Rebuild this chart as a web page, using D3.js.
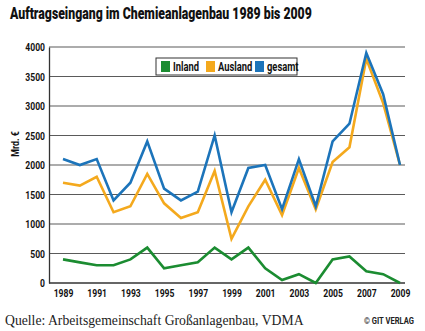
<!DOCTYPE html>
<html>
<head>
<meta charset="utf-8">
<script src="https://cdn.jsdelivr.net/npm/d3@7"></script>
<style>
  body { margin: 0; background: #fff; }
  svg { display: block; }
</style>
</head>
<body>
<div id="container"></div>
<script>
// data
const years = d3.range(1989, 2010);
const inland = [400, 350, 300, 300, 400, 600, 250, 300, 350, 600, 400, 600, 250, 50, 150, 0, 400, 450, 200, 150, 0];
const ausland = [1700, 1650, 1800, 1200, 1300, 1850, 1350, 1100, 1200, 1900, 750, 1300, 1750, 1150, 1950, 1250, 2050, 2300, 3800, 3050, 2000];
const gesamt = [2100, 2000, 2100, 1400, 1700, 2400, 1600, 1400, 1550, 2500, 1200, 1950, 2000, 1250, 2100, 1300, 2400, 2700, 3900, 3200, 2000];
const yTicks = [0, 500, 1000, 1500, 2000, 2500, 3000, 3500, 4000];
const xTicks = [1989, 1991, 1993, 1995, 1997, 1999, 2001, 2003, 2005, 2007, 2009];

const seriesList = [
  { name: 'Inland', values: inland, color: '#1b8c31' },
  { name: 'Ausland', values: ausland, color: '#f4a91d' },
  { name: 'gesamt', values: gesamt, color: '#1c74ba' }
];

const width = 425;
const height = 331;
const sans = 'Roboto, "Noto Sans", sans-serif';

const svg = d3.select('#container').append('svg')
  .attr('width', width)
  .attr('height', height);

// squeeze text horizontally to mimic a condensed face
function condense(sel, factor) {
  sel.each(function () {
    const w = this.getComputedTextLength();
    d3.select(this)
      .attr('textLength', w * factor)
      .attr('lengthAdjust', 'spacingAndGlyphs');
  });
}

function boldText(sel, size) {
  return sel
    .style('font-family', sans)
    .style('font-weight', 'bold')
    .style('font-size', size)
    .attr('fill', '#111');
}

// title (squeezed with a scale so it spans the same width as the original)
const title = svg.append('text')
  .call(boldText, '17px')
  .style('font-weight', 900)
  .text('Auftragseingang im Chemieanlagenbau 1989 bis 2009');
const titleW = title.node().getComputedTextLength();
title.attr('transform', `translate(10,19) scale(${302 / titleW},1)`);

const x = d3.scaleLinear().domain([1989, 2009]).range([63, 400]);
const y = d3.scaleLinear().domain([0, 4000]).range([283, 47]);

// gridlines
svg.append('g')
  .selectAll('line')
  .data(yTicks)
  .join('line')
  .attr('x1', 49).attr('x2', 405)
  .attr('y1', d => y(d)).attr('y2', d => y(d))
  .attr('stroke', d => d === 0 ? '#333' : '#5a5a5a')
  .attr('stroke-width', d => d === 0 ? 1.5 : 1.1);

// y axis
const yAxis = svg.append('g')
  .attr('transform', 'translate(49,0)')
  .call(d3.axisLeft(y).tickValues(yTicks).tickFormat(d3.format('d')).tickSize(0).tickPadding(4));
yAxis.select('.domain').attr('stroke', '#333').attr('stroke-width', 1.3);
yAxis.selectAll('text').call(boldText, '11px').call(condense, 0.78);

// x axis
const xAxis = svg.append('g')
  .attr('transform', 'translate(0,283)')
  .call(d3.axisBottom(x).tickValues(xTicks).tickFormat(d3.format('d')).tickSize(0).tickPadding(6));
xAxis.select('.domain').remove();
xAxis.selectAll('text').call(boldText, '11px').call(condense, 0.78);

// y label
svg.append('text')
  .attr('transform', 'translate(19,144) rotate(-90)')
  .attr('text-anchor', 'middle')
  .call(boldText, '11px')
  .text('Mrd. €')
  .call(condense, 0.8);

// lines
const line = d3.line()
  .x((d, i) => x(years[i]))
  .y(d => y(d));

svg.append('g')
  .selectAll('path')
  .data(seriesList)
  .join('path')
  .attr('d', d => line(d.values))
  .attr('fill', 'none')
  .attr('stroke', d => d.color)
  .attr('stroke-width', 2.6)
  .attr('stroke-linejoin', 'miter');

// legend
const legend = svg.append('g').attr('transform', 'translate(156,58)');
legend.append('rect')
  .attr('width', 141).attr('height', 17)
  .attr('fill', '#fff')
  .attr('stroke', '#333')
  .attr('stroke-width', 1);
const legendX = [5, 50, 99];
const items = legend.selectAll('g.item')
  .data(seriesList)
  .join('g')
  .attr('class', 'item')
  .attr('transform', (d, i) => `translate(${legendX[i]},3)`);
items.append('rect')
  .attr('width', 9).attr('height', 11)
  .attr('fill', d => d.color);
items.append('text')
  .attr('x', 12).attr('y', 10)
  .call(boldText, '12px')
  .text(d => d.name)
  .call(condense, 0.78);

// source + credit
svg.append('text')
  .attr('x', 5).attr('y', 325)
  .style('font-family', '"Liberation Serif", "DejaVu Serif", serif')
  .style('font-size', '13.7px')
  .attr('fill', '#222')
  .text('Quelle: Arbeitsgemeinschaft Großanlagenbau, VDMA');

const credit = svg.append('text')
  .attr('text-anchor', 'end')
  .call(boldText, '9.5px')
  .attr('fill', '#222')
  .text('© GIT VERLAG');
credit.attr('transform', 'translate(414,324) scale(0.8,1)');
</script>
</body>
</html>
